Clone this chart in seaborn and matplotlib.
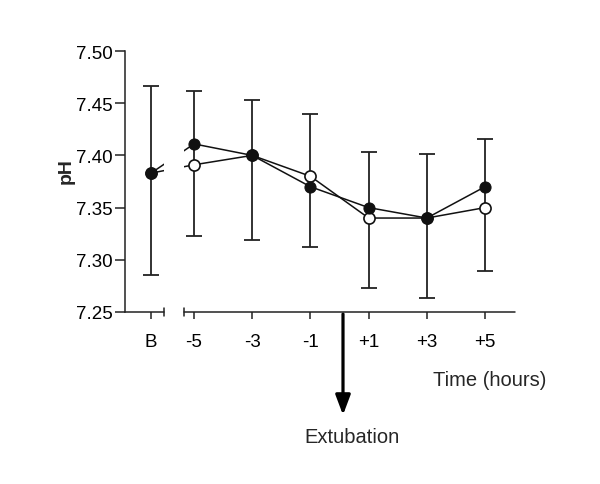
import numpy as np
import pandas as pd
import seaborn as sns
import matplotlib.pyplot as plt
from matplotlib.patches import Rectangle

# данні
time_labels = ['B', '-5', '-3', '-1', '+1', '+3', '+5']
ph_filled = [7.383, 7.411, 7.400, 7.370, 7.350, 7.340, 7.370]
ph_open = [7.383, 7.391, 7.400, 7.380, 7.340, 7.340, 7.350]
err_high = [7.466, 7.462, 7.453, 7.440, 7.403, 7.401, 7.416]
err_low = [7.285, 7.323, 7.319, 7.312, 7.273, 7.263, 7.289]

sns.set_style('ticks')
plt.rcParams['font.family'] = ['Liberation Sans', 'DejaVu Sans']

# позиції: B відокремлена розривом осі
pos = np.array([-0.74] + list(range(len(time_labels) - 1)), dtype=float)
df = pd.DataFrame({'pos': pos, 'filled': ph_filled, 'open': ph_open})

fig = plt.figure(figsize=(6, 4.85), dpi=100)
ax = fig.add_axes([125 / 600, 1 - 313 / 485, 390 / 600, 261 / 485])

centre = np.array(ph_filled)
ax.errorbar(pos, centre, yerr=[centre - np.array(err_low), np.array(err_high) - centre],
            fmt='none', ecolor='#222222', elinewidth=1.3, capsize=6, capthick=1.3, zorder=2)

sns.lineplot(data=df, x='pos', y='open', ax=ax, color='#111111', linewidth=1.1,
             marker='o', markersize=8, markerfacecolor='white', markeredgecolor='#111111',
             markeredgewidth=1.2, zorder=3)
sns.lineplot(data=df, x='pos', y='filled', ax=ax, color='#111111', linewidth=1.1,
             marker='o', markersize=8, markerfacecolor='#111111', markeredgecolor='#111111',
             zorder=4)

# розрив осі
xl, xr = -1.186, 5.515
ax.set_xlim(xl, xr)
ax.set_ylim(7.25, 7.50)
gap_a, gap_b = -0.515, -0.18
ax.add_patch(Rectangle((gap_a, 7.2), gap_b - gap_a, 0.4, facecolor='white', edgecolor='none',
                       zorder=5, clip_on=False))
ax.spines['bottom'].set_visible(False)
ax.spines['right'].set_visible(False)
ax.spines['top'].set_visible(False)
ax.spines['left'].set_linewidth(1.1)
ax.spines['left'].set_color('#222222')
ax.plot([xl, gap_a], [7.25, 7.25], color='#222222', lw=1.1, clip_on=False, zorder=6)
ax.plot([gap_b, xr], [7.25, 7.25], color='#222222', lw=1.1, clip_on=False, zorder=6)
for gx in (gap_a, gap_b):
    ax.plot([gx, gx], [7.246, 7.254], color='#222222', lw=1.1, clip_on=False, zorder=6)

ax.set_xticks(pos)
ax.set_xticklabels(time_labels)
ax.set_yticks(np.arange(7.25, 7.501, 0.05))
ax.set_yticklabels([f'{v:.2f}' for v in np.arange(7.25, 7.501, 0.05)])
ax.tick_params(axis='both', length=5, width=1.1, color='#222222', labelsize=13.5,
               labelcolor='black')
ax.tick_params(axis='y', length=7, pad=2)
ax.tick_params(axis='x', pad=10)
ax.set_xlabel('')
ax.set_ylabel('')
fig.text(66 / 600, 1 - 171 / 485, 'pH', rotation=90, ha='center', va='center',
         fontsize=14, fontweight='bold')

fig.text(490 / 600, 1 - 381 / 485, 'Time (hours)', ha='center', va='center', fontsize=14.5)
ax.annotate('', xy=(343 / 600, 1 - 416 / 485), xytext=(343 / 600, 1 - 315 / 485),
            xycoords='figure fraction', textcoords='figure fraction',
            arrowprops=dict(arrowstyle='-|>,head_length=1.2,head_width=0.45', color='black',
                            lw=2.3, shrinkA=0, shrinkB=0))
fig.text(352 / 600, 1 - 438 / 485, 'Extubation', ha='center', va='center', fontsize=14.5)

fig.savefig('out.png', dpi=100)
